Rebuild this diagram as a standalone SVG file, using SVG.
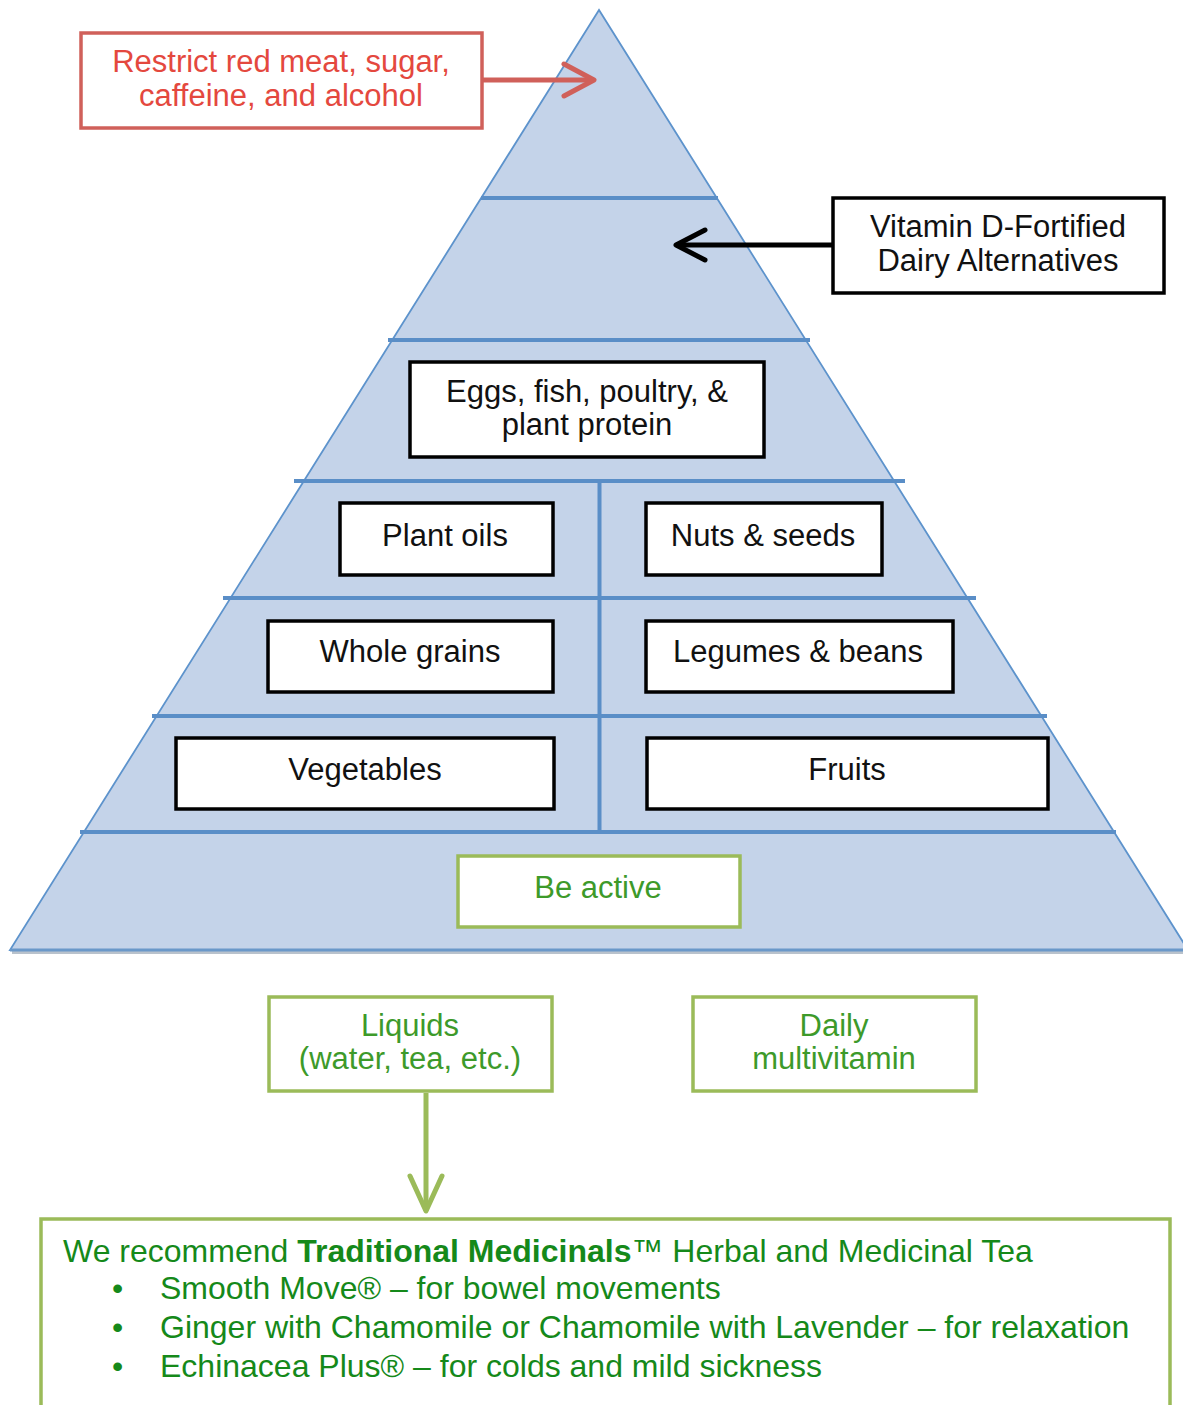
<svg xmlns="http://www.w3.org/2000/svg" width="1183" height="1405" viewBox="0 0 1183 1405">
<defs>
<style>
.lay{stroke:#5a8ec7;stroke-width:4;fill:none}
.bx{fill:#fff;stroke:#000;stroke-width:3.5}
.gb{fill:#fff;stroke:#9bbb59;stroke-width:3.5}
.t{font-family:"Liberation Sans",Arial,sans-serif;font-size:31px;text-anchor:middle;fill:#111}
.tg{font-family:"Liberation Sans",Arial,sans-serif;font-size:31px;text-anchor:middle;fill:#3d9a2a}
.tr{font-family:"Liberation Sans",Arial,sans-serif;font-size:31px;text-anchor:middle;fill:#e4483e}
.tb{font-family:"Liberation Sans",Arial,sans-serif;font-size:32px;fill:#15891a}
</style>
<marker id="mr" markerUnits="userSpaceOnUse" markerWidth="40" markerHeight="40" viewBox="0 0 40 40" refX="35" refY="20" orient="auto">
<path d="M5,4 L35,20 L5,36" fill="none" stroke="#d0605a" stroke-width="5" stroke-linecap="round" stroke-linejoin="round"/>
</marker>
<marker id="mk" markerUnits="userSpaceOnUse" markerWidth="40" markerHeight="40" viewBox="0 0 40 40" refX="35" refY="20" orient="auto">
<path d="M6,5 L35,20 L6,35" fill="none" stroke="#000" stroke-width="5" stroke-linecap="round" stroke-linejoin="round"/>
</marker>
<marker id="mg" markerUnits="userSpaceOnUse" markerWidth="44" markerHeight="44" viewBox="0 0 44 44" refX="39" refY="22" orient="auto">
<path d="M4,6 L39,22 L4,38" fill="none" stroke="#9bbb59" stroke-width="5" stroke-linecap="round" stroke-linejoin="round"/>
</marker>
</defs>
<rect width="1183" height="1405" fill="#fff"/>
<g id="pyramid">
<line x1="12" y1="952.5" x2="1183" y2="952.5" stroke="#b9c2cc" stroke-width="3"/>
<polygon points="599,10 10,950 1188,950" fill="#c4d3e9" stroke="#5d93cc" stroke-width="1.8"/>
<line x1="10" y1="950" x2="1183" y2="950" stroke="#6a98c9" stroke-width="3"/>
<line class="lay" x1="481" y1="198" x2="718" y2="198"/>
<line class="lay" x1="388" y1="340" x2="810" y2="340"/>
<line class="lay" x1="294" y1="481" x2="905" y2="481"/>
<line class="lay" x1="223" y1="598" x2="976" y2="598"/>
<line class="lay" x1="152" y1="716" x2="1047" y2="716"/>
<line class="lay" x1="80" y1="832" x2="1116" y2="832"/>
<line class="lay" x1="599.5" y1="481" x2="599.5" y2="832" stroke-width="3"/>
</g>
<g id="connectors">
<line x1="483" y1="80" x2="594" y2="80" stroke="#d0605a" stroke-width="5" marker-end="url(#mr)"/>
<line x1="832" y1="245" x2="676" y2="245" stroke="#000" stroke-width="5" marker-end="url(#mk)"/>
<line x1="426" y1="1093" x2="426" y2="1211" stroke="#9bbb59" stroke-width="5" marker-end="url(#mg)"/>
</g>
<g id="restrict">
<rect x="81" y="33" width="401" height="95" fill="#fff" stroke="#d0605a" stroke-width="3.5"/>
<text class="tr" x="281" y="72">Restrict red meat, sugar,</text>
<text class="tr" x="281" y="106">caffeine, and alcohol</text>
</g>
<g id="vitamin-d">
<rect class="bx" x="833" y="198" width="331" height="95"/>
<text class="t" x="998" y="237">Vitamin D-Fortified</text>
<text class="t" x="998" y="271">Dairy Alternatives</text>
</g>
<g id="eggs">
<rect class="bx" x="410" y="362" width="354" height="95"/>
<text class="t" x="587" y="402">Eggs, fish, poultry, &amp;</text>
<text class="t" x="587" y="435">plant protein</text>
</g>
<g id="plant-oils">
<rect class="bx" x="340" y="503" width="213" height="72"/>
<text class="t" x="445" y="546">Plant oils</text>
</g>
<g id="nuts-seeds">
<rect class="bx" x="646" y="503" width="236" height="72"/>
<text class="t" x="763" y="546">Nuts &amp; seeds</text>
</g>
<g id="whole-grains">
<rect class="bx" x="268" y="621" width="285" height="71"/>
<text class="t" x="410" y="662">Whole grains</text>
</g>
<g id="legumes">
<rect class="bx" x="646" y="621" width="307" height="71"/>
<text class="t" x="798" y="662">Legumes &amp; beans</text>
</g>
<g id="vegetables">
<rect class="bx" x="176" y="738" width="378" height="71"/>
<text class="t" x="365" y="780">Vegetables</text>
</g>
<g id="fruits">
<rect class="bx" x="647" y="738" width="401" height="71"/>
<text class="t" x="847" y="780">Fruits</text>
</g>
<g id="be-active">
<rect class="gb" x="458" y="856" width="282" height="71"/>
<text class="tg" x="598" y="898">Be active</text>
</g>
<g id="liquids">
<rect class="gb" x="269" y="997" width="283" height="94"/>
<text class="tg" x="410" y="1036">Liquids</text>
<text class="tg" x="410" y="1069">(water, tea, etc.)</text>
</g>
<g id="multivitamin">
<rect class="gb" x="693" y="997" width="283" height="94"/>
<text class="tg" x="834" y="1036">Daily</text>
<text class="tg" x="834" y="1069">multivitamin</text>
</g>
<g id="tea">
<rect class="gb" x="41" y="1219" width="1129" height="200"/>
<text class="tb" x="63" y="1262">We recommend <tspan font-weight="bold">Traditional Medicinals</tspan>™ Herbal and Medicinal Tea</text>
<text class="tb" x="112" y="1299">•</text>
<text class="tb" x="160" y="1299">Smooth Move® – for bowel movements</text>
<text class="tb" x="112" y="1338">•</text>
<text class="tb" x="160" y="1338">Ginger with Chamomile or Chamomile with Lavender – for relaxation</text>
<text class="tb" x="112" y="1377">•</text>
<text class="tb" x="160" y="1377">Echinacea Plus® – for colds and mild sickness</text>
</g>
</svg>
